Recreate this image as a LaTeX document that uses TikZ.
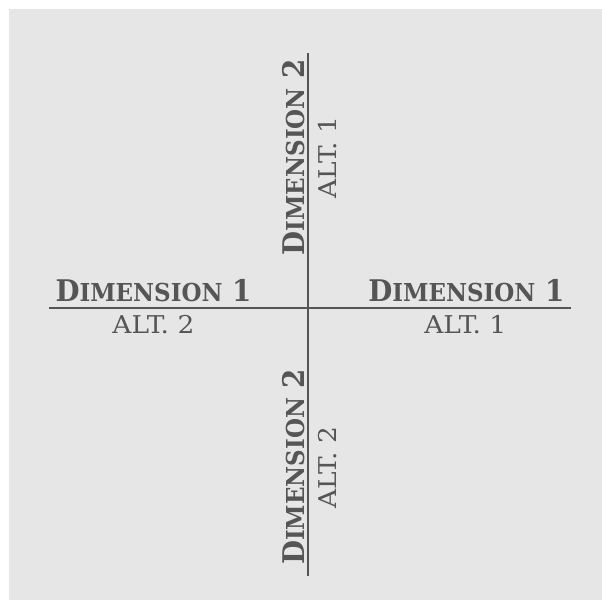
\documentclass[tikz,border=0pt]{standalone}
\usepackage{fontspec}
\setmainfont{DejaVu Serif}
\definecolor{bg}{HTML}{E6E6E6}
\definecolor{ink}{HTML}{555555}
\newcommand{\dimlabel}[1]{\scalebox{0.93}[1]{\bfseries\fontsize{29.8}{30}\selectfont D\fontsize{24.7}{25}\selectfont IMENSION\fontsize{29.8}{30}\selectfont\ #1}}
\newcommand{\altlabel}[1]{\scalebox{1.08}[1]{\fontsize{24.5}{25}\selectfont ALT.\ #1}}
\begin{document}
\begin{tikzpicture}[x=1pt,y=1pt,
  lbl/.style={inner sep=0pt, anchor=base, text=ink},
  axis/.style={draw=ink, line width=2pt}]
\useasboundingbox (0,0) rectangle (602,-601);
\fill[bg] (9,-9) rectangle (602,-600);
\coordinate (L) at (49,-307.7);
\coordinate (R) at (571,-307.7);
\coordinate (T) at (307.7,-52.7);
\coordinate (B) at (307.7,-575.7);
\draw[axis] (L) -- (R);
\draw[axis] (T) -- (B);
\node[lbl] (d1l) at (153.5,-301.7) {\dimlabel{1}};
\node[lbl] (a2l) at (153.4,-334) {\altlabel{2}};
\node[lbl] (d1r) at (466.4,-301.7) {\dimlabel{1}};
\node[lbl] (a1r) at (465.3,-334) {\altlabel{1}};
\node[lbl, rotate=90] (d2t) at (304.3,-157.3) {\dimlabel{2}};
\node[lbl, rotate=90] (a1t) at (336.7,-157.4) {\altlabel{1}};
\node[lbl, rotate=90] (d2b) at (304.3,-467) {\dimlabel{2}};
\node[lbl, rotate=90] (a2b) at (336.7,-468) {\altlabel{2}};
\end{tikzpicture}
\end{document}
